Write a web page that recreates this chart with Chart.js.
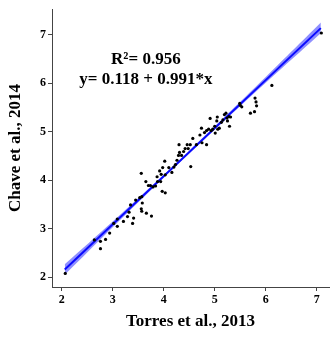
<!DOCTYPE html>
<html><head><meta charset="utf-8">
<script src="https://cdn.jsdelivr.net/npm/chart.js@4/dist/chart.umd.min.js"></script>
<style>html,body{margin:0;padding:0;background:#fff}#c{display:block}</style>
</head><body>
<canvas id="c" width="333" height="338"></canvas>
<script>
const torres = [2.07,2.64,2.76,2.76,2.86,2.94,3.02,3.09,3.09,3.21,3.29,3.32,3.35,3.39,3.41,3.45,3.53,3.57,3.56,3.57,3.58,3.56,3.65,3.66,3.76,3.70,3.74,3.79,3.84,3.88,3.87,3.94,3.92,3.95,3.98,4.02,3.97,4.03,4.03,4.10,4.16,4.20,4.23,4.26,4.29,4.31,4.30,4.35,4.39,4.42,4.46,4.48,4.52,4.53,4.57,4.64,4.71,4.74,4.75,4.80,4.84,4.84,4.88,4.91,4.93,4.96,5.00,5.01,5.04,5.05,5.06,5.09,5.13,5.16,5.19,5.22,5.24,5.25,5.28,5.29,5.31,5.49,5.50,5.53,5.70,5.78,5.79,5.81,5.82,6.12,7.09];
const chave  = [2.08,2.77,2.74,2.59,2.78,2.91,3.11,3.05,3.20,3.15,3.25,3.34,3.49,3.11,3.22,3.59,3.64,3.66,3.41,3.36,3.53,4.14,3.97,3.32,3.26,3.89,3.89,3.86,3.88,3.97,4.07,3.97,4.19,4.12,4.26,4.39,3.77,3.74,4.11,4.26,4.16,4.27,4.32,4.41,4.51,4.57,4.73,4.51,4.59,4.65,4.73,4.65,4.73,4.28,4.86,4.73,4.93,5.07,4.77,4.98,5.02,4.73,5.05,5.27,5.02,5.05,5.11,4.97,5.22,5.30,5.05,5.07,5.19,5.24,5.35,5.38,5.28,5.22,5.31,5.11,5.30,5.58,5.54,5.51,5.38,5.41,5.69,5.61,5.53,5.95,7.03];
// fitted line endpoints and confidence band
const fitX = [2.06, 7.08];
const fitY = [2.16, 7.13];
const bandX = [2.06, 3.0, 4.0, 4.5, 5.0, 6.0, 7.08];
const bandUpper = [2.27, 3.15, 4.112, 4.608, 5.108, 6.124, 7.245];
const bandLower = [2.05, 3.03, 4.052, 4.548, 5.038, 6.004, 7.025];
const xTicks = [2,3,4,5,6,7];
const yTicks = [2,3,4,5,6,7];
const xTitle = 'Torres et al., 2013';
const yTitle = 'Chave et al., 2014';
const annLines = ['R\u00B2= 0.956', 'y= 0.118 + 0.991*x'];

const serif = '"Liberation Serif", "Times New Roman", serif';
const toPts = (xs, ys) => xs.map((x, i) => ({x: x, y: ys[i]}));

const annotate = {
  id: 'annotate',
  afterDatasetsDraw(chart) {
    const {ctx, scales} = chart;
    ctx.save();
    ctx.font = 'bold 17px ' + serif;
    ctx.fillStyle = '#000';
    ctx.textAlign = 'center';
    ctx.textBaseline = 'middle';
    ctx.fillText(annLines[0], scales.x.getPixelForValue(3.65), scales.y.getPixelForValue(6.49));
    ctx.fillText(annLines[1], scales.x.getPixelForValue(3.65), scales.y.getPixelForValue(6.08));
    ctx.restore();
  }
};

new Chart(document.getElementById('c'), {
  type: 'scatter',
  data: {
    datasets: [
      {type: 'line', data: toPts(bandX, bandUpper), borderWidth: 0, pointRadius: 0, backgroundColor: 'rgba(90,90,255,0.68)', fill: '+1', order: 3, tension: 0.4},
      {type: 'line', data: toPts(bandX, bandLower), borderWidth: 0, pointRadius: 0, fill: false, order: 3, tension: 0.4},
      {type: 'line', data: toPts(fitX, fitY), borderColor: '#0a0aff', borderWidth: 2, pointRadius: 0, fill: false, order: 2},
      {data: toPts(torres, chave), backgroundColor: '#000', borderWidth: 0, pointRadius: 1.6, order: 1}
    ]
  },
  options: {
    responsive: false,
    animation: false,
    events: [],
    layout: {padding: {top: 5, right: 0, left: 0, bottom: 0}},
    plugins: {legend: {display: false}, tooltip: {enabled: false}},
    scales: {
      x: {
        type: 'linear', min: 1.81, max: 7.24,
        afterBuildTicks: s => { s.ticks = xTicks.map(v => ({value: v})); },
        afterFit: s => { s.height = 51; },
        border: {display: true, color: '#444', width: 1},
        grid: {display: true, drawOnChartArea: false, tickLength: 4, color: '#444'},
        ticks: {color: '#000', font: {family: serif, weight: 'bold', size: 12}, padding: 2, maxRotation: 0},
        title: {display: true, text: xTitle, color: '#000', font: {family: serif, weight: 'bold', size: 17}, padding: {top: 0, bottom: 6}}
      },
      y: {
        type: 'linear', min: 1.8, max: 7.52,
        afterBuildTicks: s => { s.ticks = yTicks.map(v => ({value: v})); },
        afterFit: s => { s.width = 52; },
        border: {display: true, color: '#444', width: 1},
        grid: {display: true, drawOnChartArea: false, tickLength: 4, color: '#444'},
        ticks: {color: '#000', font: {family: serif, weight: 'bold', size: 12}, padding: 2},
        title: {display: true, text: yTitle, color: '#000', font: {family: serif, weight: 'bold', size: 17}, padding: {top: 5, bottom: 0}}
      }
    }
  },
  plugins: [annotate]
});
</script>
</body></html>
